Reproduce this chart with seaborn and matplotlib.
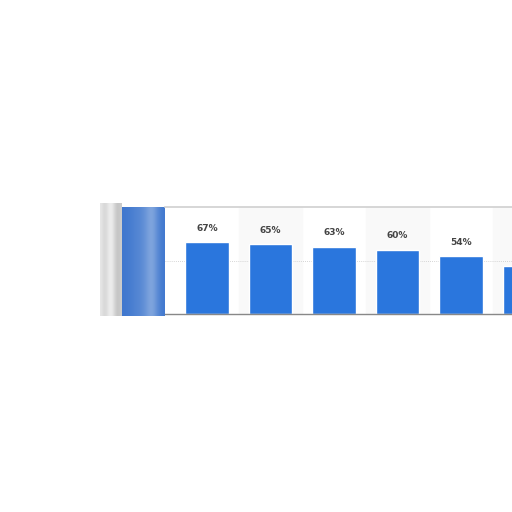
import numpy as np
import pandas as pd
import matplotlib
matplotlib.use('Agg')
import matplotlib.pyplot as plt
import seaborn as sns

# valori (l'ultima barra e' tagliata, la sua etichetta non si vede)
categories = ['A', 'B', 'C', 'D', 'E', 'F']
values = [67, 65, 63, 60, 54, 45]
labels = ['67%', '65%', '63%', '60%', '54%']

df = pd.DataFrame({'cat': categories, 'val': values})

sns.set_theme(style='white')
fig = plt.figure(figsize=(5.12, 5.12), dpi=100)
fig.patch.set_facecolor('white')

W = 512.0
def box(x0, y0, x1, y1):
    return [x0 / W, 1 - y1 / W, (x1 - x0) / W, (y1 - y0) / W]

# striscia grigia sfocata a sinistra
axg = fig.add_axes(box(100, 203, 122, 316))
g = np.array([0.90, 0.84, 0.86, 0.93, 0.92, 0.82, 0.76, 0.80])
axg.imshow(np.tile(g, (10, 1)), cmap='gray', vmin=0, vmax=1, aspect='auto', interpolation='bicubic')
axg.axis('off')

# blocco blu sfocato
axb = fig.add_axes(box(122, 207, 165, 316))
b = np.array([0.25, 0.28, 0.33, 0.36, 0.45, 0.60, 0.40, 0.26])
blues = matplotlib.colors.LinearSegmentedColormap.from_list('bb', ['#3570cc', '#b5cbea'])
axb.imshow(np.tile(b, (10, 1)), cmap=blues, vmin=0.2, vmax=0.8, aspect='auto', interpolation='bicubic')
axb.axis('off')

# pannello principale
ax = fig.add_axes(box(165, 207, 512 + 300, 314))
n = len(categories)
for i in range(n):
    if i % 2 == 1:
        ax.axvspan(i - 0.5, i + 0.5, color='#f9f9f9', zorder=0)
ax.axhline(50, color='#c8c8c8', lw=0.6, ls=(0, (1, 1.5)), zorder=1)
sns.barplot(data=df, x='cat', y='val', color='#2a76dd', saturation=1, width=0.69, ax=ax, zorder=2)
for i, lab in enumerate(labels):
    ax.text(i, values[i] + 9, lab, ha='center', va='bottom', fontsize=6.5, fontweight='bold', color='#444444')
ax.set_ylim(0, 100)
ax.set_xlim(-0.66, -0.66 + (512 + 300 - 165) / 63.5)
ax.set_xticks([]); ax.set_yticks([])
ax.set_xlabel(''); ax.set_ylabel('')
for s in ['left', 'right']:
    ax.spines[s].set_visible(False)
ax.spines['top'].set_color('#d0d0d0')
ax.spines['bottom'].set_color('#888888')
ax.spines['top'].set_linewidth(1.2)
ax.spines['bottom'].set_linewidth(1.0)

fig.savefig('out.png', dpi=100)
